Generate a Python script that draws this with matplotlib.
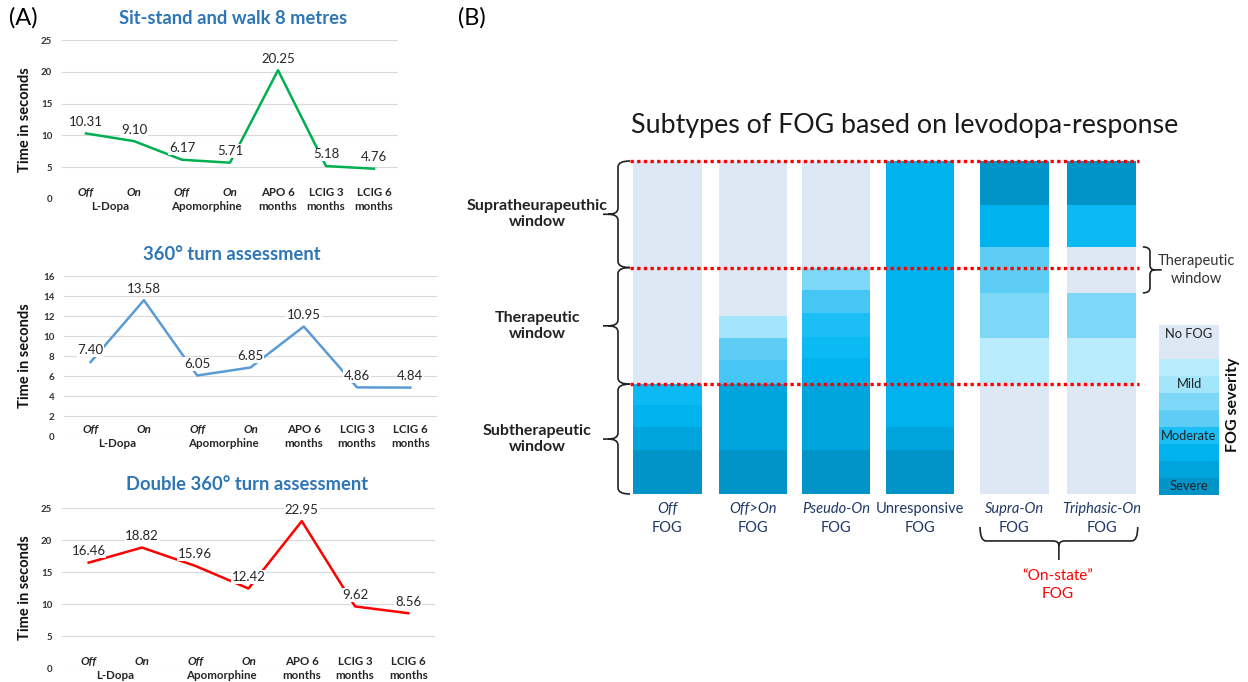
import numpy as np
import matplotlib.pyplot as plt
from matplotlib.path import Path
from matplotlib.patches import PathPatch

plt.rcParams['font.family'] = ['Lato', 'DejaVu Sans']

# ---- panel A data ----
row1 = ['Off', 'On', 'Off', 'On', 'APO 6\nmonths', 'LCIG 3\nmonths', 'LCIG 6\nmonths']
groups = ['L-Dopa', 'Apomorphine']
sit_walk = [10.31, 9.10, 6.17, 5.71, 20.25, 5.18, 4.76]
turn_360 = [7.40, 13.58, 6.05, 6.85, 10.95, 4.86, 4.84]
double_turn = [16.46, 18.82, 15.96, 12.42, 22.95, 9.62, 8.56]

# ---- panel B data ----
fog_types = ['Off', 'Off>On', 'Pseudo-On', 'Unresponsive', 'Supra-On', 'Triphasic-On']
fog_italic = [True, True, True, False, True, True]
window_edges = [3.3, 6.8, 10.0]
window_names = ['Subtherapeutic\nwindow', 'Therapeutic\nwindow', 'Supratheurapeuthic\nwindow']
# upper edge of each coloured block, and its severity level (0 = no FOG, 10 = severe)
seg_tops = [
    [1.32, 2.0, 2.67, 3.3, 10.0],
    [1.32, 3.3, 4.02, 4.68, 5.35, 10.0],
    [1.32, 3.3, 4.08, 4.71, 5.43, 6.12, 6.79, 10.0],
    [1.32, 2.0, 10.0],
    [3.33, 4.68, 6.04, 7.42, 8.68, 10.0],
    [3.33, 4.68, 6.04, 7.42, 8.68, 10.0],
]
seg_levels = [
    [10, 9, 8, 7, 0],
    [10, 9, 5, 4, 2, 0],
    [10, 9, 8, 7, 6, 5, 3, 0],
    [10, 9, 8],
    [0, 1, 3, 4, 8, 10],
    [0, 1, 3, 0, 7, 10],
]
severity_colors = ['#dde8f4', '#b8ecfd', '#a3e5fb', '#7dd8f8', '#5dcdf6', '#45c6f4',
                   '#1cbff5', '#0bb9f3', '#00b2ee', '#00a5de', '#0094c8']
legend_levels = [10, 9, 8, 6, 4, 3, 2, 1, 0]
legend_sizes = [1, 1, 1, 1, 1, 1, 1, 1, 2]
legend_text = ['Severe', 'Moderate', 'Mild', 'No FOG']
legend_text_y = [0.5, 3.5, 6.5, 9.5]

W, H = 1248, 682
fig = plt.figure(figsize=(W / 100, H / 100), dpi=100)


def rect(l, t, r, b):
    return [l / W, 1 - b / H, (r - l) / W, (b - t) / H]


def ftext(x, y, s, **kw):
    fig.text(x / W, 1 - y / H, s, **kw)


title_blue = '#2e75b6'
charts = [
    (sit_walk, 'Sit-stand and walk 8 metres', '#00b050', 25, 5, (62, 40, 398, 199), 233, 18),
    (turn_360, '360\u00b0 turn assessment', '#5b9bd5', 16, 2, (64, 276, 437, 436), 232, 255),
    (double_turn, 'Double 360\u00b0 turn assessment', '#ff0000', 25, 5, (62, 508, 435, 668), 247, 485),
]

for vals, title, col, ymax, step, box, tx, ty in charts:
    ax = fig.add_axes(rect(*box))
    x = np.arange(len(vals))
    ax.plot(x, vals, color=col, lw=1.8, zorder=2)
    for i, v in enumerate(vals):
        ax.annotate('%.2f' % v, (i, v), xytext=(0, 4), textcoords='offset points',
                    ha='center', va='bottom', fontsize=9.5, color='#262626', zorder=4,
                    bbox=dict(fc='white', ec='none', pad=0.6))
    ax.set_xlim(-0.5, len(vals) - 0.5)
    ax.set_ylim(0, ymax)
    ax.set_yticks(np.arange(0, ymax + 1, step))
    ax.set_xticks([])
    ax.yaxis.grid(True, color='#d9d9d9', lw=0.8)
    ax.set_axisbelow(True)
    for s in ax.spines.values():
        s.set_visible(False)
    ax.tick_params(axis='y', length=0, pad=7, labelsize=7, labelcolor='#333333')
    for lab in ax.get_yticklabels():
        lab.set_fontweight('bold')
    for i, lab in enumerate(row1):
        if '\n' in lab:
            ax.annotate(lab, (i, 0), xycoords=('data', 'axes fraction'), xytext=(0, -0.5),
                        textcoords='offset points', ha='center', va='center', fontsize=8.3,
                        fontweight='bold', linespacing=1.3, color='#262626')
        else:
            ax.annotate(lab, (i, 0), xycoords=('data', 'axes fraction'), xytext=(0, 5),
                        textcoords='offset points', ha='center', va='center', fontsize=8.3,
                        fontweight='bold', fontstyle='italic', color='#262626')
    for g, name in enumerate(groups):
        ax.annotate(name, (2 * g + 0.5, 0), xycoords=('data', 'axes fraction'), xytext=(0, -5.5),
                    textcoords='offset points', ha='center', va='center', fontsize=8.3,
                    fontweight='bold', color='#262626')
    ftext(tx, ty, title, ha='center', va='center', fontsize=13.2, fontweight='bold', color=title_blue)
    ftext(25, (box[1] + box[3]) / 2, 'Time in seconds', rotation=90, ha='center', va='center',
          fontsize=10.5, fontweight='bold', color='#111111')

ftext(23, 18, '(A)', ha='center', va='center', fontsize=17)
ftext(472, 18, '(B)', ha='center', va='center', fontsize=17)

# ---- panel B ----
axb = fig.add_axes(rect(633, 161, 1136, 494))
x_pos = [0, 1, 1.97, 2.95, 4.05, 5.07]
for i in range(len(fog_types)):
    bottom = 0
    for top, lvl in zip(seg_tops[i], seg_levels[i]):
        axb.bar(x_pos[i], top - bottom, bottom=bottom, width=0.8,
                color=severity_colors[lvl], linewidth=0)
        bottom = top
axb.hlines(window_edges, -0.44, 5.5, colors='#ff0000', lw=2.4,
           linestyles=(0, (1, 1)), clip_on=False, zorder=3)
axb.set_xlim(-0.4, 5.47)
axb.set_ylim(0, 10)
axb.axis('off')

navy = '#1f3864'
for i, name in enumerate(fog_types):
    axb.text(x_pos[i], -0.45, name, ha='center', va='center', fontsize=10.5, color=navy,
             fontstyle='italic' if fog_italic[i] else 'normal', clip_on=False)
    axb.text(x_pos[i], -1.02, 'FOG', ha='center', va='center', fontsize=10.5, color=navy,
             clip_on=False)


def brace(ax, a0, a1, end, spine, tip, tip2, r, vertical=True):
    # curly bracket from a0 to a1 (along), hooks at `end`, point at `tip`
    m = (a0 + a1) / 2
    verts = [(end, a1), (spine, a1), (spine, a1 - r), (spine, m + r), (spine, m), (tip, m),
             (tip, m), (spine, m), (spine, m - r), (spine, a0 + r), (spine, a0), (end, a0),
             (tip, m), (tip2, m)]
    codes = [Path.MOVETO, Path.CURVE3, Path.CURVE3, Path.LINETO, Path.CURVE3, Path.CURVE3,
             Path.MOVETO, Path.CURVE3, Path.CURVE3, Path.LINETO, Path.CURVE3, Path.CURVE3,
             Path.MOVETO, Path.LINETO]
    if vertical:
        verts = [(a, b) for a, b in verts]
    else:
        verts = [(b, a) for a, b in verts]
    ax.add_patch(PathPatch(Path(verts, codes), fc='none', ec='#222222', lw=1.2, clip_on=False))


lows = [0] + window_edges[:-1]
for lo, hi, name in zip(lows, window_edges, window_names):
    brace(axb, lo, hi, -0.435, -0.575, -0.69, -0.75, 0.18)
    axb.text(-1.52, (lo + hi) / 2, name, ha='center', va='center', fontsize=11.5,
             fontweight='bold', color='#222222', linespacing=1.2, multialignment='center')

# therapeutic window of the triphasic bar
t_lo, t_hi = seg_tops[5][2], seg_tops[5][3]
brace(axb, t_lo, t_hi, 5.55, 5.633, 5.69, 5.77, 0.15)
axb.text(6.18, (t_lo + t_hi) / 2, 'Therapeutic\nwindow', ha='center', va='center', fontsize=10.5,
         color='#333333', linespacing=1.3, clip_on=False)

# "On-state" brace under the last two bars
brace(axb, x_pos[4] - 0.4, x_pos[5] + 0.42, -0.99, -1.41, -1.55, -1.98, 0.07, vertical=False)
axb.text((x_pos[4] + x_pos[5]) / 2, -2.73, '\u201cOn-state\u201d\nFOG', ha='center', va='center',
         fontsize=11, color='#ff0000', linespacing=1.3, clip_on=False)

ftext(905, 125, 'Subtypes of FOG based on levodopa-response', ha='center', va='center',
      fontsize=19.3, color='#1a1a1a')

# severity legend
axl = fig.add_axes(rect(1159, 325, 1219, 495))
bottom = 0
for lvl, size in zip(legend_levels, legend_sizes):
    axl.bar(0, size, bottom=bottom, width=1, color=severity_colors[lvl], linewidth=0)
    bottom += size
for t, y in zip(legend_text, legend_text_y):
    axl.text(0, y, t, ha='center', va='center', fontsize=9.3, color='#222222')
axl.set_xlim(-0.5, 0.5)
axl.set_ylim(0, sum(legend_sizes))
axl.axis('off')
ftext(1233, 405, 'FOG severity', rotation=90, ha='center', va='center', fontsize=11.5,
      fontweight='bold', color='#111111')

fig.savefig('out.png', dpi=100)
